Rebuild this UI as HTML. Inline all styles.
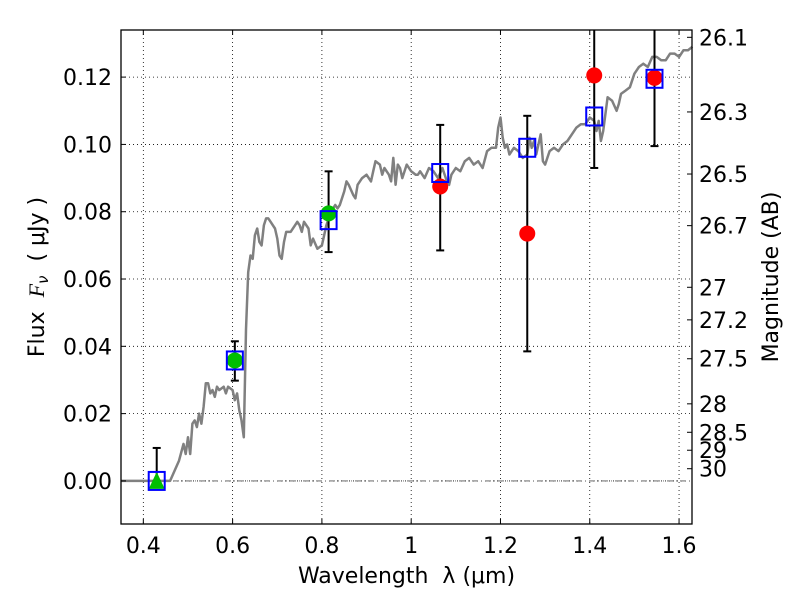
<!DOCTYPE html>
<html><head><meta charset="utf-8"><style>
body{margin:0;background:#fff}
svg{font-family:"DejaVu Sans","Liberation Sans",sans-serif}
</style></head><body>
<svg id="chart" width="800" height="600" viewBox="0 0 800 600" xmlns="http://www.w3.org/2000/svg">
<rect width="800" height="600" fill="#fff"/>
<g id="grid"></g><g id="spec"></g><g id="marks"></g><g id="axes"></g>
</svg>
<script>
const xTicks=[0.4,0.6,0.8,1.0,1.2,1.4,1.6];
const xTickLabels=["0.4","0.6","0.8","1","1.2","1.4","1.6"];
const yTicks=[0,0.02,0.04,0.06,0.08,0.10,0.12];
const yTickLabels=["0.00","0.02","0.04","0.06","0.08","0.10","0.12"];
const magTicks=[26.1,26.3,26.5,26.7,27,27.2,27.5,28,28.5,29,30];
const magTickLabels=["26.1","26.3","26.5","26.7","27","27.2","27.5","28","28.5","29","30"];
const specWave=[0.35,0.46,0.48,0.49,0.495,0.50,0.505,0.51,0.515,0.52,0.525,0.53,0.535,0.54,0.545,0.55,0.555,0.56,0.565,0.57,0.58,0.585,0.59,0.60,0.605,0.61,0.615,0.62,0.625,0.63,0.635,0.64,0.645,0.65,0.655,0.66,0.665,0.67,0.675,0.68,0.685,0.69,0.695,0.70,0.705,0.71,0.715,0.72,0.73,0.74,0.745,0.75,0.755,0.76,0.77,0.775,0.78,0.79,0.80,0.81,0.82,0.83,0.835,0.84,0.85,0.855,0.86,0.87,0.875,0.88,0.89,0.90,0.91,0.915,0.92,0.93,0.935,0.94,0.95,0.955,0.96,0.965,0.97,0.975,0.98,0.99,1.0,1.01,1.015,1.02,1.03,1.04,1.05,1.06,1.07,1.08,1.085,1.09,1.10,1.11,1.12,1.13,1.14,1.15,1.16,1.17,1.18,1.19,1.195,1.20,1.205,1.21,1.215,1.22,1.23,1.24,1.25,1.26,1.265,1.27,1.275,1.28,1.29,1.295,1.30,1.31,1.32,1.33,1.34,1.35,1.36,1.37,1.38,1.39,1.40,1.41,1.415,1.42,1.425,1.43,1.435,1.44,1.45,1.46,1.465,1.47,1.48,1.49,1.50,1.51,1.52,1.53,1.54,1.55,1.56,1.57,1.58,1.59,1.60,1.61,1.62,1.63];
const specFlux=[0,0,0.006,0.011,0.008,0.013,0.008,0.017,0.018,0.016,0.02,0.017,0.022,0.029,0.029,0.026,0.027,0.025,0.028,0.027,0.028,0.026,0.028,0.027,0.024,0.026,0.021,0.018,0.013,0.045,0.062,0.067,0.066,0.073,0.075,0.071,0.070,0.076,0.078,0.078,0.077,0.076,0.075,0.072,0.067,0.066,0.071,0.074,0.074,0.076,0.077,0.076,0.074,0.077,0.075,0.070,0.072,0.069,0.070,0.076,0.080,0.082,0.081,0.082,0.086,0.089,0.088,0.085,0.084,0.088,0.090,0.091,0.089,0.092,0.095,0.094,0.091,0.093,0.091,0.089,0.096,0.088,0.094,0.093,0.090,0.094,0.092,0.091,0.091,0.092,0.090,0.093,0.092,0.090,0.093,0.089,0.088,0.091,0.093,0.092,0.095,0.096,0.094,0.095,0.093,0.098,0.099,0.099,0.105,0.108,0.102,0.099,0.100,0.097,0.099,0.098,0.096,0.097,0.102,0.099,0.101,0.097,0.103,0.095,0.094,0.098,0.099,0.098,0.100,0.101,0.103,0.105,0.106,0.106,0.108,0.107,0.104,0.107,0.101,0.104,0.109,0.114,0.113,0.110,0.112,0.115,0.116,0.117,0.121,0.123,0.124,0.123,0.126,0.126,0.125,0.125,0.127,0.127,0.126,0.128,0.128,0.129];
const obsWave=[0.43,0.605,0.815,1.065,1.26,1.41,1.545];
const obsFlux=[0.0,0.0358,0.0795,0.0875,0.0735,0.1205,0.1198];
const obsLo=[0.0,0.0298,0.068,0.0685,0.0385,0.093,0.0995];
const obsHi=[0.0098,0.0415,0.092,0.1058,0.1085,0.140,0.140];
const obsKind=["triangle","green","green","red","red","red","red"];
const modelFlux=[0.0,0.0358,0.0775,0.0915,0.099,0.1083,0.1195];

const L=121,R=692,T=30,B=524,XMIN=0.35,XMAX=1.629,YMIN=-0.0128,YMAX=0.134;
const sx=v=>L+(v-XMIN)/(XMAX-XMIN)*(R-L);
const sy=v=>B-(v-YMIN)/(YMAX-YMIN)*(B-T);
const NS="http://www.w3.org/2000/svg";
function mk(parent,tag,attrs,text){const e=document.createElementNS(NS,tag);for(const k in attrs)e.setAttribute(k,attrs[k]);if(text!==undefined)e.textContent=text;document.getElementById(parent).appendChild(e);return e;}

xTicks.forEach((t,i)=>{const x=sx(t);
 const g=mk('grid','line',{x1:x,x2:x,y1:T,y2:B,stroke:'#000','stroke-width':0.8,'stroke-dasharray':'1,3'});
 
 mk('axes','line',{x1:x,x2:x,y1:B,y2:B-5,stroke:'#000'});mk('axes','line',{x1:x,x2:x,y1:T,y2:T+5,stroke:'#000'});
 const l=mk('axes','text',{x:x,y:B+29,'text-anchor':'middle','font-size':22},xTickLabels[i]);
 });
yTicks.forEach((t,i)=>{const y=sy(t);
 const g=mk('grid','line',{x1:L,x2:R,y1:y,y2:y,stroke:'#000','stroke-width':0.8,'stroke-dasharray':'1,3'});
 
 mk('axes','line',{x1:L,x2:L+5,y1:y,y2:y,stroke:'#000'});
 const l=mk('axes','text',{x:L-9,y:y+8,'text-anchor':'end','font-size':22},yTickLabels[i]);
 });
magTicks.forEach((m,i)=>{const y=sy(Math.pow(10,(23.9-m)/2.5));
 mk('axes','line',{x1:R,x2:R-5,y1:y,y2:y,stroke:'#000'});
 const l=mk('axes','text',{x:R+7,y:y+8,'font-size':22},magTickLabels[i]);
 });

const z=mk('spec','line',{x1:L,x2:R,y1:sy(0),y2:sy(0),stroke:'#555','stroke-width':0.8,'stroke-dasharray':'6,3,1,3'});

const d=specWave.map((w,i)=>(i?'L':'M')+sx(w).toFixed(1)+','+sy(specFlux[i]).toFixed(1)).join(' ');
const sp=mk('spec','path',{d:d,fill:'none',stroke:'#808080','stroke-width':2.5,'stroke-linejoin':'round'});


obsWave.forEach((w,i)=>{const x=sx(w);
 const top=Math.max(sy(obsHi[i]),T);
 const eb=mk('marks','line',{x1:x,x2:x,y1:sy(obsLo[i]),y2:top,stroke:'#000','stroke-width':2});
 
 mk('marks','line',{x1:x-4,x2:x+4,y1:sy(obsLo[i]),y2:sy(obsLo[i]),stroke:'#000','stroke-width':2});
 if(sy(obsHi[i])>=T)mk('marks','line',{x1:x-4,x2:x+4,y1:sy(obsHi[i]),y2:sy(obsHi[i]),stroke:'#000','stroke-width':2});
 const y=sy(obsFlux[i]);let p;
 if(obsKind[i]==='triangle'){p=mk('marks','polygon',{points:`${x},${y-9} ${x-8},${y+8} ${x+8},${y+8}`,fill:'#00bf00'});}
 else p=mk('marks','circle',{cx:x,cy:y,r:8,fill:obsKind[i]==='green'?'#00bf00':'#ff0000'});
 
 const ym=sy(modelFlux[i]);
 const s=mk('marks','rect',{x:x-8,y:ym-9,width:16,height:18,fill:'none',stroke:'#0000ff','stroke-width':2});
 
});

const fr=mk('axes','rect',{x:L,y:T,width:R-L,height:B-T,fill:'none',stroke:'#000','stroke-width':1.3});

const xt=mk('axes','text',{x:(L+R)/2,y:583,'text-anchor':'middle','font-size':22},'Wavelength  λ (μm)');
xt.setAttribute('xml:space','preserve');xt.style.whiteSpace='pre';

const yt=mk('axes','text',{x:0,y:0,transform:`translate(44,${(T+B)/2}) rotate(-90)`,'text-anchor':'middle','font-size':22},'Flux  ');
yt.style.whiteSpace='pre';
const ts=document.createElementNS(NS,'tspan');ts.setAttribute('font-style','italic');ts.setAttribute('font-family','Liberation Serif, serif');ts.textContent='F';yt.appendChild(ts);
const ts2=document.createElementNS(NS,'tspan');ts2.setAttribute('font-style','italic');ts2.setAttribute('font-size','15');ts2.setAttribute('dy','4');ts2.textContent='ν';yt.appendChild(ts2);
const ts3=document.createElementNS(NS,'tspan');ts3.setAttribute('dy','-4');ts3.textContent='  ( μJy )';yt.appendChild(ts3);

const rt=mk('axes','text',{x:0,y:0,transform:`translate(778,${(T+B)/2}) rotate(-90)`,'text-anchor':'middle','font-size':22},'Magnitude (AB)');

</script>
</body></html>
